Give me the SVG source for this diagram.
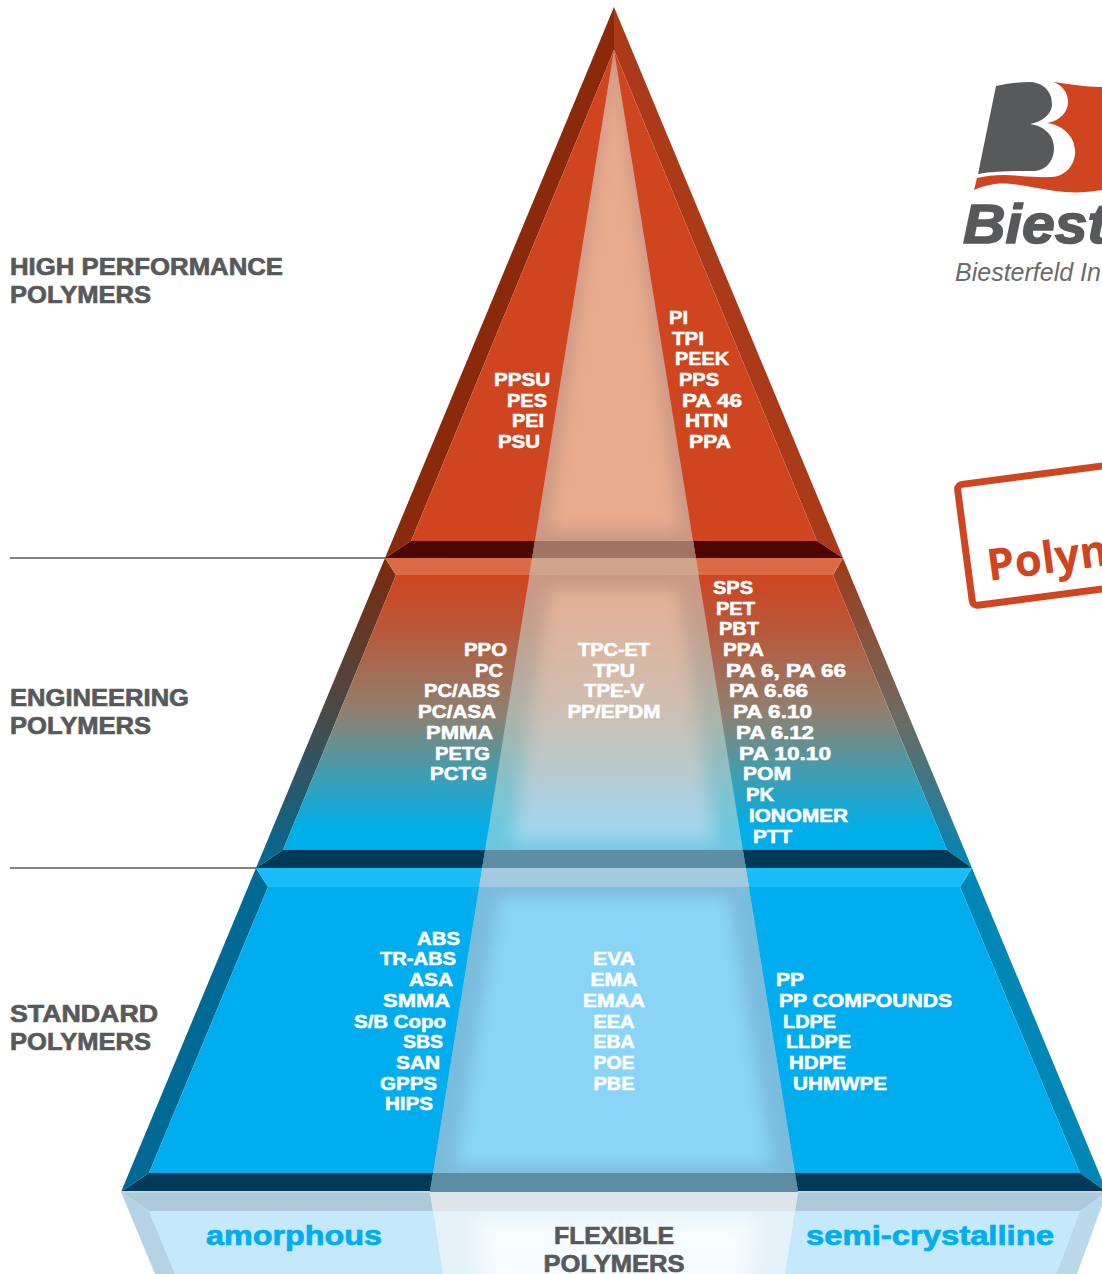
<svg xmlns="http://www.w3.org/2000/svg" width="1102" height="1274" viewBox="0 0 1102 1274">
<style>
text{lengthAdjust:spacingAndGlyphs}
.w{font-family:"Liberation Sans",Arial,sans-serif;font-weight:700;font-size:18px;fill:#fff;stroke:#fff;stroke-width:.55px}
.e{text-anchor:end}.m{text-anchor:middle}
.h{font-family:"Liberation Sans",Arial,sans-serif;font-weight:700;font-size:24px;fill:#58595b;stroke:#58595b;stroke-width:.7px}
.c{font-family:"Liberation Sans",Arial,sans-serif;font-weight:700;font-size:27px;fill:#00aeef;stroke:#00aeef;stroke-width:.7px}
</style>
<defs>
<linearGradient id="face2" x1="0" y1="575" x2="0" y2="850" gradientUnits="userSpaceOnUse"><stop offset="0" stop-color="#cf4520"/><stop offset=".2" stop-color="#b9583a"/><stop offset=".5" stop-color="#8f8070"/><stop offset=".72" stop-color="#409eb0"/><stop offset=".92" stop-color="#00aee8"/><stop offset="1" stop-color="#00aeea"/></linearGradient>
<linearGradient id="bl2" x1="0" y1="558" x2="0" y2="868" gradientUnits="userSpaceOnUse"><stop offset="0" stop-color="#7c2a0a"/><stop offset=".5" stop-color="#4a4a48"/><stop offset="1" stop-color="#006a94"/></linearGradient>
<linearGradient id="br2" x1="0" y1="558" x2="0" y2="868" gradientUnits="userSpaceOnUse"><stop offset="0" stop-color="#a03a1a"/><stop offset=".5" stop-color="#6f6a60"/><stop offset="1" stop-color="#0087b6"/></linearGradient>
<linearGradient id="g2" x1="0" y1="588" x2="0" y2="844" gradientUnits="userSpaceOnUse"><stop offset="0" stop-color="#e6b094"/><stop offset=".5" stop-color="#cdbfb4"/><stop offset="1" stop-color="#9bd8f2"/></linearGradient>
<filter id="b" x="-20%" y="-20%" width="140%" height="140%"><feGaussianBlur stdDeviation="8"/></filter>
<clipPath id="band"><polygon points="614,50 798,1192 430,1192"/></clipPath>
<clipPath id="bandr"><polygon points="430,1192 798,1192 785,1274 443,1274"/></clipPath>
</defs>
<rect width="1102" height="1274" fill="#fff"/>
<g id="connectors" stroke="#58595b" stroke-width="1.5" fill="none">
<line x1="10" y1="558" x2="386" y2="558"/>
<line x1="10" y1="868" x2="257" y2="868"/>
</g>
<g id="layer-high">
<polygon points="614,7 614,50 411,541 385,558" fill="#8b2a0a"/>
<polygon points="614,7 614,50 817,541 843,558" fill="#ab3a18"/>
<polygon points="614,50 817,541 411,541" fill="#cf4520"/>
<polygon points="385,558 411,541 817,541 843,558" fill="#4c0800"/>
</g>
<g id="layer-engineering">
<polygon points="385,558 396,575 283,850 256,868" fill="url(#bl2)"/>
<polygon points="843,558 833,575 947,850 972,868" fill="url(#br2)"/>
<polygon points="385,558 843,558 833,575 396,575" fill="#d96a44"/>
<polygon points="396,575 833,575 947,850 283,850" fill="url(#face2)"/>
<polygon points="256,868 283,850 947,850 972,868" fill="#003a58"/>
</g>
<g id="layer-standard">
<polygon points="256,868 268,887 149,1173 121,1192" fill="#006a94"/>
<polygon points="972,868 960,887 1080,1173 1107,1192" fill="#0087b6"/>
<polygon points="256,868 972,868 960,887 268,887" fill="#18bdf5"/>
<polygon points="268,887 960,887 1080,1173 149,1173" fill="#00aeef"/>
<polygon points="121,1192 149,1173 1080,1173 1107,1192" fill="#003a58"/>
</g>
<g id="reflection">
<polygon points="149,1211 1080,1211 1056,1274 175,1274" fill="#c5e8fa"/>
<polygon points="121,1192 149,1211 175,1274 155,1274" fill="#b5d3e5"/>
<polygon points="1107,1192 1080,1211 1056,1274 1077,1274" fill="#bad9ea"/>
<polygon points="121,1192 1107,1192 1080,1211 149,1211" fill="#adc9da"/>
<rect x="121" y="1191" width="986" height="2" fill="#c5d5de"/>
</g>
<g id="flexible-band">
<polygon points="614,50 798,1192 430,1192" fill="#c8dcd7" fill-opacity=".55"/>
<g clip-path="url(#band)">
<rect x="400" y="541" width="430" height="17" fill="#9f7460"/>
<rect x="400" y="558" width="430" height="17" fill="#cfa38c"/>
<rect x="400" y="850" width="430" height="18" fill="#5e8ea3"/>
<rect x="400" y="868" width="430" height="19" fill="#a3cbe0"/>
<rect x="400" y="887" width="430" height="286" fill="#7bbcdc"/>
<rect x="400" y="1173" width="430" height="19" fill="#5e8ea3"/>
<polygon points="614,52 680,530 548,530" fill="#e8ab8d" filter="url(#b)"/>
<polygon points="550,590 678,590 716,842 512,842" fill="url(#g2)" filter="url(#b)"/>
<polygon points="500,897 728,897 772,1165 456,1165" fill="#8ad5f7" filter="url(#b)"/>
<rect x="400" y="541" width="430" height="17" fill="#9f7460"/>
<rect x="400" y="558" width="430" height="17" fill="#cfa38c"/>
<rect x="400" y="850" width="430" height="18" fill="#5e8ea3"/>
<rect x="400" y="868" width="430" height="19" fill="#a3cbe0"/>
<rect x="400" y="1173" width="430" height="19" fill="#5e8ea3"/>
</g>
<polygon points="430,1192 798,1192 785,1274 443,1274" fill="#e6f2f9"/>
<g clip-path="url(#bandr)"><polygon points="475,1222 755,1222 745,1290 485,1290" fill="#f6fcff" filter="url(#b)"/></g>
<polygon points="430,1192 798,1192 795,1211 433,1211" fill="#dde5eb"/>
</g>
<g id="labels-high">
<text class="h" x="10" y="275" textLength="273" lengthAdjust="spacingAndGlyphs">HIGH PERFORMANCE</text><text class="h" x="10" y="303" textLength="141" lengthAdjust="spacingAndGlyphs">POLYMERS</text>
<text class="w e" x="550" y="386" textLength="56" lengthAdjust="spacingAndGlyphs">PPSU</text><text class="w e" x="547" y="407" textLength="40" lengthAdjust="spacingAndGlyphs">PES</text><text class="w e" x="544" y="427" textLength="32" lengthAdjust="spacingAndGlyphs">PEI</text><text class="w e" x="540" y="448" textLength="42" lengthAdjust="spacingAndGlyphs">PSU</text>
<text class="w" x="669" y="324" textLength="19" lengthAdjust="spacingAndGlyphs">PI</text><text class="w" x="672" y="345" textLength="32" lengthAdjust="spacingAndGlyphs">TPI</text><text class="w" x="675" y="365" textLength="54" lengthAdjust="spacingAndGlyphs">PEEK</text><text class="w" x="679" y="386" textLength="40" lengthAdjust="spacingAndGlyphs">PPS</text><text class="w" x="682" y="407" textLength="60" lengthAdjust="spacingAndGlyphs">PA 46</text><text class="w" x="685" y="427" textLength="43" lengthAdjust="spacingAndGlyphs">HTN</text><text class="w" x="689" y="448" textLength="42" lengthAdjust="spacingAndGlyphs">PPA</text>
</g>
<g id="labels-engineering">
<text class="h" x="10" y="706" textLength="179" lengthAdjust="spacingAndGlyphs">ENGINEERING</text><text class="h" x="10" y="734" textLength="141" lengthAdjust="spacingAndGlyphs">POLYMERS</text>
<text class="w e" x="507" y="656" textLength="43" lengthAdjust="spacingAndGlyphs">PPO</text><text class="w e" x="503" y="677" textLength="28" lengthAdjust="spacingAndGlyphs">PC</text><text class="w e" x="500" y="697" textLength="76" lengthAdjust="spacingAndGlyphs">PC/ABS</text><text class="w e" x="496" y="718" textLength="78" lengthAdjust="spacingAndGlyphs">PC/ASA</text><text class="w e" x="493" y="739" textLength="67" lengthAdjust="spacingAndGlyphs">PMMA</text><text class="w e" x="490" y="760" textLength="55" lengthAdjust="spacingAndGlyphs">PETG</text><text class="w e" x="487" y="780" textLength="57" lengthAdjust="spacingAndGlyphs">PCTG</text>
<text class="w m" x="614" y="656" textLength="72" lengthAdjust="spacingAndGlyphs">TPC-ET</text><text class="w m" x="614" y="677" textLength="42" lengthAdjust="spacingAndGlyphs">TPU</text><text class="w m" x="614" y="697" textLength="60" lengthAdjust="spacingAndGlyphs">TPE-V</text><text class="w m" x="614" y="718" textLength="93" lengthAdjust="spacingAndGlyphs">PP/EPDM</text>
<text class="w" x="713" y="594" textLength="40" lengthAdjust="spacingAndGlyphs">SPS</text><text class="w" x="716" y="615" textLength="39" lengthAdjust="spacingAndGlyphs">PET</text><text class="w" x="719" y="635" textLength="40" lengthAdjust="spacingAndGlyphs">PBT</text><text class="w" x="723" y="656" textLength="41" lengthAdjust="spacingAndGlyphs">PPA</text><text class="w" x="726" y="677" textLength="120" lengthAdjust="spacingAndGlyphs">PA 6, PA 66</text><text class="w" x="729" y="697" textLength="79" lengthAdjust="spacingAndGlyphs">PA 6.66</text><text class="w" x="733" y="718" textLength="79" lengthAdjust="spacingAndGlyphs">PA 6.10</text><text class="w" x="736" y="739" textLength="78" lengthAdjust="spacingAndGlyphs">PA 6.12</text><text class="w" x="739" y="760" textLength="92" lengthAdjust="spacingAndGlyphs">PA 10.10</text><text class="w" x="743" y="780" textLength="48" lengthAdjust="spacingAndGlyphs">POM</text><text class="w" x="746" y="801" textLength="28" lengthAdjust="spacingAndGlyphs">PK</text><text class="w" x="749" y="822" textLength="99" lengthAdjust="spacingAndGlyphs">IONOMER</text><text class="w" x="753" y="843" textLength="39" lengthAdjust="spacingAndGlyphs">PTT</text>
</g>
<g id="labels-standard">
<text class="h" x="10" y="1022" textLength="148" lengthAdjust="spacingAndGlyphs">STANDARD</text><text class="h" x="10" y="1050" textLength="141" lengthAdjust="spacingAndGlyphs">POLYMERS</text>
<text class="w e" x="460" y="945" textLength="43" lengthAdjust="spacingAndGlyphs">ABS</text><text class="w e" x="456" y="965" textLength="76" lengthAdjust="spacingAndGlyphs">TR-ABS</text><text class="w e" x="453" y="986" textLength="44" lengthAdjust="spacingAndGlyphs">ASA</text><text class="w e" x="450" y="1007" textLength="67" lengthAdjust="spacingAndGlyphs">SMMA</text><text class="w e" x="446" y="1028" textLength="92" lengthAdjust="spacingAndGlyphs">S/B Copo</text><text class="w e" x="443" y="1048" textLength="40" lengthAdjust="spacingAndGlyphs">SBS</text><text class="w e" x="440" y="1069" textLength="44" lengthAdjust="spacingAndGlyphs">SAN</text><text class="w e" x="437" y="1090" textLength="57" lengthAdjust="spacingAndGlyphs">GPPS</text><text class="w e" x="433" y="1110" textLength="48" lengthAdjust="spacingAndGlyphs">HIPS</text>
<text class="w m" x="614" y="965" textLength="42" lengthAdjust="spacingAndGlyphs">EVA</text><text class="w m" x="614" y="986" textLength="47" lengthAdjust="spacingAndGlyphs">EMA</text><text class="w m" x="614" y="1007" textLength="62" lengthAdjust="spacingAndGlyphs">EMAA</text><text class="w m" x="614" y="1028" textLength="41" lengthAdjust="spacingAndGlyphs">EEA</text><text class="w m" x="614" y="1048" textLength="41" lengthAdjust="spacingAndGlyphs">EBA</text><text class="w m" x="614" y="1069" textLength="41" lengthAdjust="spacingAndGlyphs">POE</text><text class="w m" x="614" y="1090" textLength="41" lengthAdjust="spacingAndGlyphs">PBE</text>
<text class="w" x="776" y="986" textLength="28" lengthAdjust="spacingAndGlyphs">PP</text><text class="w" x="779" y="1007" textLength="173" lengthAdjust="spacingAndGlyphs">PP COMPOUNDS</text><text class="w" x="783" y="1028" textLength="53" lengthAdjust="spacingAndGlyphs">LDPE</text><text class="w" x="786" y="1048" textLength="65" lengthAdjust="spacingAndGlyphs">LLDPE</text><text class="w" x="789" y="1069" textLength="57" lengthAdjust="spacingAndGlyphs">HDPE</text><text class="w" x="793" y="1090" textLength="94" lengthAdjust="spacingAndGlyphs">UHMWPE</text>
</g>
<g id="labels-base">
<text class="c m" x="294" y="1245" textLength="176" lengthAdjust="spacingAndGlyphs">amorphous</text>
<text class="c m" x="930" y="1245" textLength="248" lengthAdjust="spacingAndGlyphs">semi-crystalline</text>
<text class="h m" x="614" y="1244" textLength="120" lengthAdjust="spacingAndGlyphs">FLEXIBLE</text><text class="h m" x="614" y="1272" textLength="141" lengthAdjust="spacingAndGlyphs">POLYMERS</text>
</g>
<g id="logo">
<path d="M996,86 Q1015,82 1030,82 C1045,83 1052,93 1052,104 C1052,114 1042,122 1030,124 C1044,126 1054,135 1054,148 C1054,161 1046,170 1035,171 C1015,171 995,171 978,174 Z" fill="#58595b"/>
<path d="M1053,82 C1070,84 1085,87 1102,87 L1102,190 C1085,193 1070,193 1055,191 C1030,187 1010,182 995,184 C988,185 980,187 974,190 L977,178 C990,175 1005,174 1020,176 C1035,177 1050,178 1058,176 C1070,172 1076,160 1075,150 C1074,135 1062,125 1047,123 C1060,121 1068,112 1068,102 C1068,92 1062,85 1053,82 Z" fill="#cf4520"/>
<text x="963" y="243" font-family="'Liberation Sans',sans-serif" font-weight="700" font-style="italic" font-size="56" fill="#58595b" stroke="#58595b" stroke-width="1.6" textLength="144" lengthAdjust="spacingAndGlyphs">Biest</text>
<text x="955" y="281" font-family="'Liberation Sans',sans-serif" font-style="italic" font-size="25" fill="#6a6b6d">Biesterfeld In</text>
</g>
<g id="stamp">
<rect x="957" y="485" width="300" height="122" rx="5" fill="none" stroke="#cf4520" stroke-width="7" transform="rotate(-7.5 957 485)"/>
<text x="989" y="581" font-family="'Open Sans',sans-serif" font-weight="700" font-size="44" fill="#cf4520" transform="rotate(-7.5 989 581)">Polym</text>
</g>
</svg>
